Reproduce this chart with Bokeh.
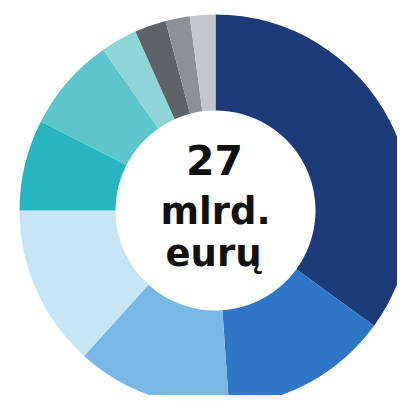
import math
from bokeh.plotting import figure
from bokeh.models import ColumnDataSource, Range1d
from bokeh.core.properties import value
from bokeh.embed import file_html
from bokeh.resources import INLINE

# Slice shares (percent of 27 bn EUR), clockwise from 12 o'clock
categories = ["A", "B", "C", "D", "E", "F", "G", "H", "I", "J"]
shares = [35.0, 13.9, 12.8, 13.3, 7.5, 7.8, 3.0, 2.6, 2.0, 2.1]
colors = ["#1e3b79", "#2f77c6", "#79b7e5", "#c6e6f5", "#27b6bf",
          "#5dc6cc", "#8fd5d8", "#5e6367", "#8d9195", "#c4c6c9"]
center_lines = ["27", "mlrd.", "eurų"]
center_sizes = ["41px", "37px", "37px"]

W, H = 397, 395
cx, cy = 215, 185
r_in, r_out = 100, 196

total = sum(shares)
starts, ends = [], []
acc = 0.0
for s in shares:
    starts.append(math.pi / 2 - 2 * math.pi * acc / total)
    acc += s
    ends.append(math.pi / 2 - 2 * math.pi * acc / total)

src = ColumnDataSource(dict(cat=categories, start=starts, end=ends, color=colors,
                            x=[cx] * len(shares), y=[cy] * len(shares)))

p = figure(width=W, height=H, output_backend="svg", toolbar_location=None,
           x_axis_location=None, y_axis_location=None, min_border=0,
           x_range=Range1d(0, W), y_range=Range1d(0, H))
p.grid.visible = False
p.outline_line_color = None
p.background_fill_color = "white"
p.border_fill_color = "white"

p.annular_wedge(x="x", y="y", inner_radius=r_in, outer_radius=r_out,
                start_angle="start", end_angle="end", direction="clock",
                fill_color="color", line_color=None, source=src)

tsrc = ColumnDataSource(dict(x=[214, 215, 213], y=[236, 184, 142],
                             text=center_lines, size=center_sizes))
p.text(x="x", y="y", text="text", text_font_size="size", source=tsrc,
       text_font=value("DejaVu Sans"), text_font_style="bold",
       text_align="center", text_baseline="alphabetic", text_color="#111111")

open("out.html", "w").write(file_html(p, INLINE))
